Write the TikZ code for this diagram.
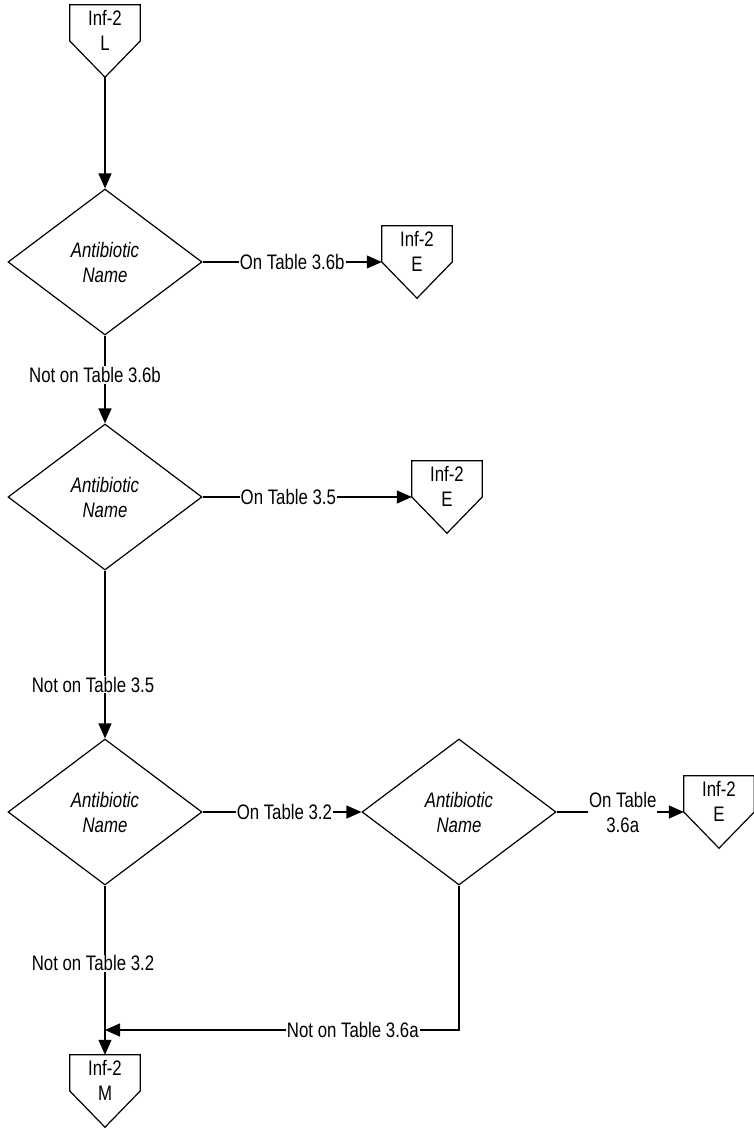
\documentclass[tikz,border=0pt]{standalone}
\usepackage{fontspec}
\setmainfont[FakeStretch=0.8]{Liberation Sans}
\usetikzlibrary{shapes.geometric,arrows.meta,calc}
\newcommand\offpagebox[5]{% name, x, ytop, letter, width
  \node[conn, minimum width=#5] (#1) at (#2,#3+36) {};
  \draw[flow] (#1.north west) -- (#1.north east) -- (#1.east) -- (#1.south) -- (#1.west) -- cycle;
  \node[conntext] at (#2,#3+25) {Inf-2\\#4};
}
\begin{document}
\begin{tikzpicture}[x=1pt,y=-1pt,
  every node/.style={font=\fontsize{21}{25}\selectfont},
  dia/.style={diamond, draw, line width=1.2pt, minimum width=194pt, minimum height=146pt, inner sep=0pt, align=center, font=\fontsize{21}{25}\selectfont\itshape},
  conn/.style={minimum height=72pt, inner sep=0pt},
  conntext/.style={align=center, inner sep=0pt, font=\fontsize{21}{25}\selectfont},
  lbl/.style={fill=white, inner sep=1pt, align=center},
  flow/.style={line width=1.2pt},
  arr/.style={flow, -{Triangle[length=15pt,width=13pt]}},
]
\useasboundingbox (0,0) rectangle (753,1129);

\offpagebox{L}{105}{5}{L}{70pt}
\node[dia] (D1) at (105,262) {Antibiotic\\Name};
\offpagebox{E1}{417}{226}{E}{70pt}
\node[dia] (D2) at (105,497) {Antibiotic\\Name};
\offpagebox{E2}{447}{461}{E}{70pt}
\node[dia] (D3) at (105,812) {Antibiotic\\Name};
\node[dia] (D4) at (459,812) {Antibiotic\\Name};
\offpagebox{E3}{719}{776}{E}{70pt}
\offpagebox{M}{105}{1055}{M}{70pt}

\coordinate (Jy) at (0,1030);
\coordinate (J) at (D3.south |- Jy);

\draw[arr] (L.south) -- (D1.north);
\draw[arr] (D1.east) -- node[lbl,pos=0.5]{On Table 3.6b} (E1.west);
\draw[arr] (D1.south) -- node[lbl,pos=0.45,xshift=-10pt]{Not on Table 3.6b} (D2.north);
\draw[arr] (D2.east) -- node[lbl,pos=0.41]{On Table 3.5} (E2.west);
\draw[arr] (D2.south) -- node[lbl,pos=0.68,xshift=-12pt]{Not on Table 3.5} (D3.north);
\draw[arr] (D3.east) -- node[lbl,pos=0.515]{On Table 3.2} (D4.west);
\draw[arr] (D4.east) -- node[lbl,pos=0.52]{On Table\\3.6a} (E3.west);
\draw[arr] (D3.south) -- node[lbl,pos=0.46,xshift=-12pt]{Not on Table 3.2} (M.north);
\draw[arr] (D4.south) |- node[lbl,pos=0.65]{Not on Table 3.6a} (J);
\end{tikzpicture}
\end{document}
